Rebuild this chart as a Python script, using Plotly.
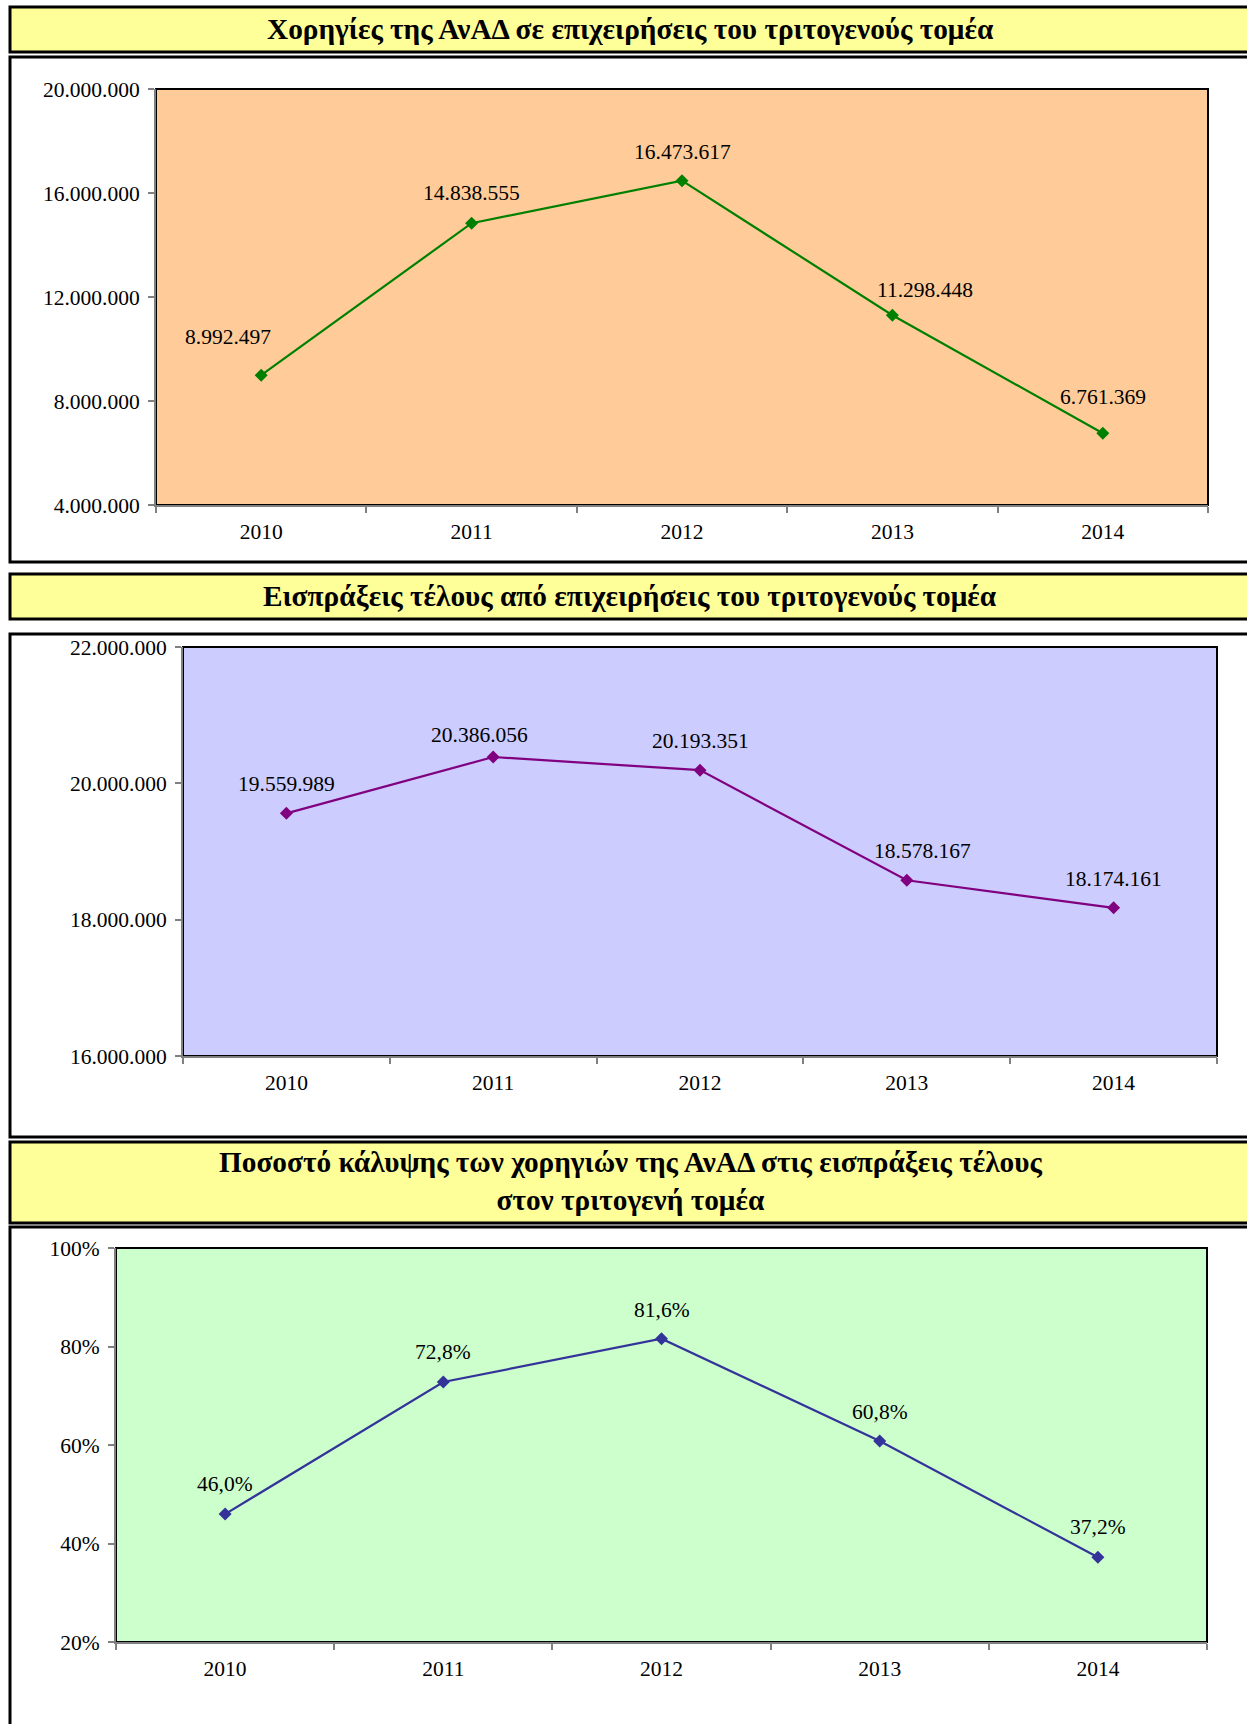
import plotly.graph_objects as go

W, H = 1247, 1724

years = ["2010", "2011", "2012", "2013", "2014"]
subsidies = [8992497, 14838555, 16473617, 11298448, 6761369]
receipts = [19559989, 20386056, 20193351, 18578167, 18174161]
coverage = [0.4597, 0.7279, 0.8158, 0.6082, 0.3720]

titles = [
    "Χορηγίες της ΑνΑΔ σε επιχειρήσεις του τριτογενούς τομέα",
    "Εισπράξεις τέλους από επιχειρήσεις του τριτογενούς τομέα",
    "Ποσοστό κάλυψης των χορηγιών της ΑνΑΔ στις εισπράξεις τέλους<br>στον τριτογενή τομέα",
]

FONT = "Liberation Serif, Times New Roman, serif"
TICK_SIZE = 21.5
TITLE_SIZE = 29.3

def px(x):
    return x / W

def py(y):
    return 1 - y / H

# layout geometry (pixels)
plots = [
    dict(x0=156, x1=1208, y0=89, y1=505, bg="#FFCC99", line="#008000",
         yr=[4000000, 20000000], dt=4000000, fmt=",.0f",
         dx=[-33, 0, 0, 33, 0], dy=[38, 30, 29, 25, 36]),
    dict(x0=183, x1=1217, y0=647, y1=1056, bg="#CCCCFF", line="#800080",
         yr=[16000000, 22000000], dt=2000000, fmt=",.0f",
         dx=[0, -14, 0, 16, 0], dy=[29, 22, 29, 29, 29]),
    dict(x0=116, x1=1207, y0=1248, y1=1642, bg="#CCFFCC", line="#333399",
         yr=[0.2, 1.0], dt=0.2, fmt=".0%",
         dx=[0, 0, 0, 0, 0], dy=[30, 30, 29, 29, 30]),
]
series = [subsidies, receipts, coverage]

title_boxes = [(7, 52), (574, 619), (1142, 1223)]
frames = [(57, 562), (634, 1137), (1227, 1740)]
title_y = [29, 596, 1181]

fig = go.Figure()
shapes = []
annotations = []

for i, (p, vals) in enumerate(zip(plots, series)):
    n = "" if i == 0 else str(i + 1)
    xa, ya = "x" + n, "y" + n
    fig.add_trace(go.Scatter(
        x=years, y=vals, mode="lines+markers",
        line=dict(color=p["line"], width=2.2),
        marker=dict(symbol="diamond", size=10, color=p["line"]),
        xaxis=xa, yaxis=ya, showlegend=False, hoverinfo="skip",
    ))
    for j, v in enumerate(vals):
        label = (f"{v:,.0f}".replace(",", ".") if i < 2
                 else f"{v*100:.1f}%".replace(".", ","))
        annotations.append(dict(
            x=j, y=v, xref=xa, yref=ya, showarrow=False, text=label,
            xshift=p["dx"][j], yshift=p["dy"][j],
            font=dict(family=FONT, size=TICK_SIZE, color="black"),
        ))
    axis_common = dict(showgrid=False, zeroline=False, showline=True,
                       linecolor="#808080", linewidth=2, ticks="outside",
                       tickcolor="#808080", tickwidth=2, ticklen=6,
                       automargin=False,
                       tickfont=dict(family=FONT, size=TICK_SIZE, color="black"))
    fig.layout["xaxis" + n] = dict(
        domain=[px(p["x0"]), px(p["x1"])], anchor=ya, type="category",
        tickson="boundaries", range=[-0.5, 4.5], ticklabelstandoff=6,
        **axis_common)
    fig.layout["yaxis" + n] = dict(
        domain=[py(p["y1"]), py(p["y0"])], anchor=xa, range=p["yr"],
        dtick=p["dt"], tick0=p["yr"][0], tickformat=p["fmt"],
        ticklabelstandoff=4, **axis_common)
    shapes.append(dict(type="rect", xref=xa + " domain", yref=ya + " domain",
                       x0=0, x1=1, y0=0, y1=1, fillcolor=p["bg"],
                       line=dict(color="black", width=2), layer="below"))

for (t0, t1), (f0, f1), ty, txt in zip(title_boxes, frames, title_y, titles):
    shapes.append(dict(type="rect", xref="paper", yref="paper",
                       x0=px(10), x1=px(1252), y0=py(t1), y1=py(t0),
                       fillcolor="#FFFF99", line=dict(color="black", width=3),
                       layer="below"))
    shapes.append(dict(type="rect", xref="paper", yref="paper",
                       x0=px(10), x1=px(1252), y0=py(f1), y1=py(f0),
                       line=dict(color="black", width=3), layer="below"))
    annotations.append(dict(x=px(630), y=py(ty), xref="paper", yref="paper",
                            text="<b>" + txt + "</b>", showarrow=False,
                            font=dict(family=FONT, size=TITLE_SIZE, color="black"),
                            yanchor="middle", xanchor="center"))

fig.update_layout(
    width=W, height=H, margin=dict(l=0, r=0, t=0, b=0, autoexpand=False),
    paper_bgcolor="white", plot_bgcolor="rgba(0,0,0,0)",
    separators=",.", shapes=shapes, annotations=annotations,
    font=dict(family=FONT, color="black"),
)

fig.write_html("out.html", config={"displayModeBar": False},
               post_script="document.body.style.margin='0';")
